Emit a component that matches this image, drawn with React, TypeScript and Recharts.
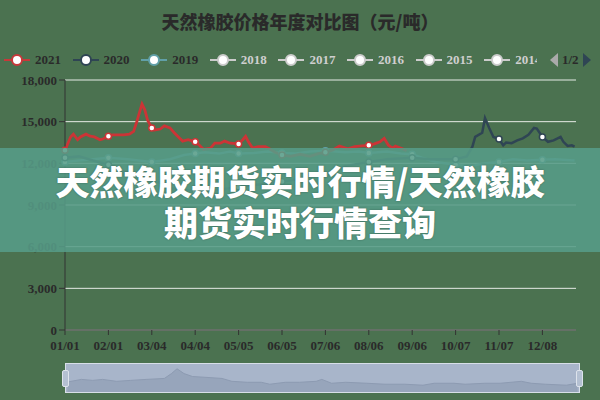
import { Area, AreaChart, CartesianGrid, Legend, Line, LineChart, XAxis, YAxis } from "recharts";

// x axis = day of year (0 = 01/01), labels every 31 days
const tickDays = [0, 31, 62, 93, 124, 155, 186, 217, 248, 279, 310, 341];
const tickLabels = ["01/01", "02/01", "03/04", "04/04", "05/05", "06/05", "07/06", "08/06", "09/06", "10/07", "11/07", "12/08"];
const priceTicks = [0, 3000, 6000, 9000, 12000, 15000, 18000];

const legendYears = ["2021", "2020", "2019", "2018", "2017", "2016", "2015", "2014"];
const legendColors = ["#c8383a", "#2f4554", "#61a0a8", "#cccccc", "#cccccc", "#cccccc", "#cccccc", "#cccccc"];
const legendActive = [true, true, true, false, false, false, false, false];

const days2021 = [0, 4, 6, 9, 11, 15, 18, 21, 25, 27, 31, 34, 38, 42, 46, 49, 51, 53, 55, 57, 59, 62, 64, 68, 71, 75, 78, 81, 84, 88, 93, 96, 99, 104, 107, 111, 114, 118, 124, 127, 129, 131, 134, 138, 143, 146, 150, 155, 161, 168, 175, 181, 186, 191, 196, 202, 207, 212, 217, 221, 225, 228, 231, 234, 236, 241, 244];
const price2021 = [12950, 13900, 14100, 13700, 13900, 14100, 13950, 13900, 13700, 13750, 13950, 14050, 14050, 14050, 14100, 14300, 14900, 15600, 16270, 15850, 15100, 14550, 14400, 14470, 14700, 14550, 14200, 13900, 13600, 13700, 13550, 13300, 13000, 13100, 13450, 13450, 13600, 13450, 13400, 13700, 13950, 13550, 13100, 13200, 13200, 13050, 12800, 12600, 12500, 12650, 12500, 12700, 12800, 12950, 13250, 13050, 13200, 13250, 13300, 13400, 13550, 13800, 13300, 13100, 13250, 13050, 12900];

const days2020 = [0, 10, 20, 31, 45, 62, 75, 93, 110, 124, 140, 155, 170, 186, 200, 217, 230, 248, 260, 279, 287, 291, 293, 298, 300, 303, 306, 310, 313, 315, 319, 323, 327, 331, 335, 337, 341, 345, 349, 354, 356, 359, 362, 364];
const price2020 = [12400, 12500, 12200, 11900, 11300, 10900, 10200, 10000, 10100, 10300, 10500, 10700, 10900, 11200, 11800, 12100, 12300, 12400, 12300, 12300, 12500, 13200, 13900, 14200, 15260, 14550, 13900, 13750, 13300, 13500, 13450, 13650, 13800, 14050, 14550, 14500, 13900, 13550, 13650, 13900, 13550, 13250, 13300, 13200];

const days2019 = [0, 10, 20, 31, 45, 62, 75, 85, 93, 100, 110, 118, 124, 135, 145, 155, 165, 175, 186, 200, 210, 217, 230, 240, 248, 255, 265, 279, 290, 300, 310, 320, 330, 341, 350, 364];
const price2019 = [12100, 12200, 12300, 12400, 12300, 12100, 12300, 12600, 12700, 12800, 12700, 12850, 12700, 12750, 12850, 12750, 12700, 12850, 12900, 12800, 12850, 12750, 12850, 12700, 12650, 12400, 12100, 11900, 11800, 12000, 12100, 12300, 12200, 12250, 12300, 12200];

// data zoom panorama
const sliderDays = [1, 11, 19, 26, 36, 46, 57, 70, 75, 79, 84, 90, 101, 111, 118, 129, 139, 145, 156, 166, 178, 182, 189, 199, 214, 227, 241, 254, 262, 276, 284, 298, 309, 324, 331, 341, 356, 364];
const sliderPrice = [11220, 12210, 11840, 12210, 11480, 11840, 12210, 12580, 14430, 16270, 14430, 13320, 12950, 12580, 11480, 11110, 11110, 10370, 11110, 11110, 11480, 12210, 10740, 11110, 10740, 10370, 10370, 10000, 10740, 10740, 10370, 10740, 10740, 11480, 10740, 10370, 10000, 10740];

const toRows = (days: number[], prices: number[]) => days.map((day, i) => ({ day, price: prices[i] }));

const data2021 = toRows(days2021, price2021);
const data2020 = toRows(days2020, price2020);
const data2019 = toRows(days2019, price2019);
const sliderData = toRows(sliderDays, sliderPrice);

const axisFont = "'Liberation Serif', serif";

const makeDot = (color: string) => (props: any) => {
  const { cx, cy, payload, index } = props;
  if (!tickDays.includes(payload.day)) return <g key={index} />;
  return <circle key={index} cx={cx} cy={cy} r={3} fill="#fff" stroke={color} strokeWidth={1.5} />;
};

function LegendBar() {
  return (
    <div style={{ display: "flex", alignItems: "center", height: 20, fontFamily: axisFont, fontSize: 13, fontWeight: 700 }}>
      <div style={{ display: "flex", width: 533, overflow: "hidden", paddingLeft: 4 }}>
        {legendYears.map((year, i) => (
          <div key={year} style={{ display: "flex", alignItems: "center", flex: "0 0 68.6px" }}>
            <svg width={26} height={14}>
              <line x1={0} y1={7} x2={26} y2={7} stroke={legendColors[i]} strokeWidth={2} />
              <circle cx={13} cy={7} r={5} fill="#fff" stroke={legendColors[i]} strokeWidth={2} />
            </svg>
            <span style={{ marginLeft: 5, color: legendActive[i] ? "#2a2a2a" : "#cfcfcf" }}>{year}</span>
          </div>
        ))}
      </div>
      <svg width={10} height={14} style={{ marginLeft: 12 }}>
        <polygon points="9,0 9,14 1,7" fill="#aaa" />
      </svg>
      <span style={{ marginLeft: 3, color: "#2a2a2a" }}>1/2</span>
      <svg width={10} height={14} style={{ marginLeft: 3 }}>
        <polygon points="1,0 1,14 9,7" fill="#2f4554" />
      </svg>
    </div>
  );
}

export default function App() {
  return (
    <div style={{ position: "absolute", left: 0, top: 0, width: 600, height: 400, background: "#4b7250", overflow: "hidden" }}>
      <div
        style={{
          position: "absolute",
          top: 8,
          width: 600,
          textAlign: "center",
          fontFamily: "'Noto Sans CJK SC', sans-serif",
          fontWeight: 900,
          fontSize: 18,
          color: "#2a2a2a",
        }}
      >
        天然橡胶价格年度对比图（元/吨）
      </div>

      <LineChart width={600} height={400} margin={{ top: 80, right: 24, bottom: 40, left: 5 }}>
        <CartesianGrid vertical={false} stroke="#e6ebe6" />
        <XAxis
          dataKey="day"
          type="number"
          domain={[0, 365]}
          ticks={tickDays}
          interval={0}
          tickFormatter={(v: number) => tickLabels[tickDays.indexOf(v)]}
          axisLine={{ stroke: "#333" }}
          tickLine={{ stroke: "#333" }}
          tickSize={5}
          tickMargin={6}
          tick={{ fill: "#2a2a2a", fontSize: 13, fontFamily: axisFont, fontWeight: 700 }}
          height={30}
        />
        <YAxis
          type="number"
          domain={[0, 18000]}
          ticks={priceTicks}
          interval={0}
          tickFormatter={(v: number) => v.toLocaleString("en-US")}
          axisLine={{ stroke: "#333" }}
          tickLine={{ stroke: "#333" }}
          tick={{ fill: "#2a2a2a", fontSize: 13, fontFamily: axisFont, fontWeight: 700 }}
          width={60}
        />
        <Legend verticalAlign="middle" align="center" wrapperStyle={{ top: 50, left: 0, width: 600 }} content={() => <LegendBar />} />
        <Line data={data2019} dataKey="price" type="linear" stroke="#61a0a8" strokeWidth={2.5} dot={makeDot("#61a0a8")} isAnimationActive={false} />
        <Line data={data2020} dataKey="price" type="linear" stroke="#2f4554" strokeWidth={2.5} dot={makeDot("#2f4554")} isAnimationActive={false} />
        <Line data={data2021} dataKey="price" type="linear" stroke="#cc3436" strokeWidth={2.8} dot={makeDot("#cc3436")} isAnimationActive={false} />
      </LineChart>

      {/* data zoom slider */}
      <div style={{ position: "absolute", left: 65, top: 363, width: 513, height: 28, background: "#a8b5ca", border: "1px solid #d8dfe8" }}>
        <AreaChart width={513} height={28} data={sliderData} margin={{ top: 0, right: 0, bottom: 0, left: 0 }}>
          <XAxis dataKey="day" type="number" domain={[0, 365]} hide />
          <YAxis domain={[7400, 18100]} hide />
          <Area dataKey="price" type="linear" stroke="#8d9bb2" fill="#97a5bb" fillOpacity={1} isAnimationActive={false} />
        </AreaChart>
      </div>
      <div style={{ position: "absolute", left: 62, top: 370, width: 5, height: 15, background: "#b4c0d2", border: "1px solid #dde3ec", borderRadius: 2 }} />
      <div style={{ position: "absolute", left: 576, top: 370, width: 5, height: 15, background: "#b4c0d2", border: "1px solid #dde3ec", borderRadius: 2 }} />

      {/* overlay banner */}
      <div
        style={{
          position: "absolute",
          left: 0,
          top: 148,
          width: 600,
          height: 104,
          background: "rgba(86,156,136,0.88)",
          overflow: "hidden",
        }}
      >
        <div
          style={{
            position: "absolute",
            left: 0,
            top: 12,
            width: 600,
            textAlign: "center",
            fontFamily: "'Noto Sans CJK SC', sans-serif",
            fontWeight: 900,
            fontSize: 34,
            lineHeight: "41px",
            color: "#fff",
            textShadow: "0 0 2px rgba(0,0,0,0.35)",
          }}
        >
          天然橡胶期货实时行情/天然橡胶
          <br />
          期货实时行情查询
        </div>
      </div>
    </div>
  );
}
